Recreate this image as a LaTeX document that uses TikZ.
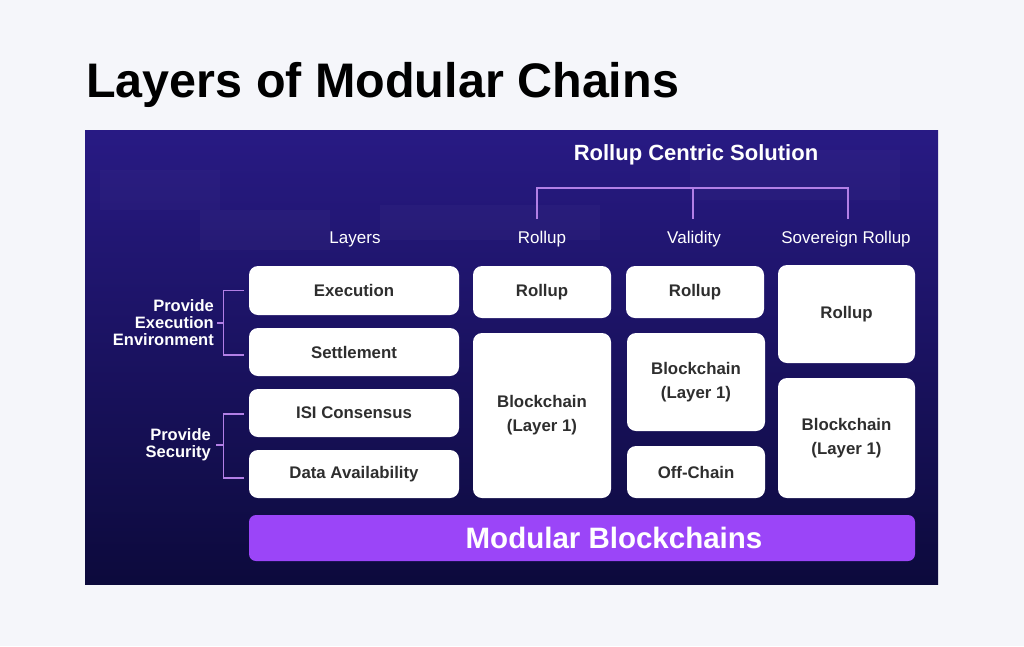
\documentclass[tikz,border=0pt]{standalone}
\usepackage{fontspec}
\setmainfont{Liberation Sans}
\usetikzlibrary{positioning}
\definecolor{pagebg}{HTML}{F5F6FA}
\definecolor{paneltop}{HTML}{281A84}
\definecolor{panelbot}{HTML}{0C0A3C}
\definecolor{boxtext}{HTML}{2E2E2E}
\definecolor{bracket}{HTML}{B27FE6}
\definecolor{barpurple}{HTML}{9B45F8}
\tikzset{
  card/.style={draw=none, fill=white, rounded corners=9pt, text=boxtext,
    font=\bfseries\fontsize{16.8}{24}\selectfont, align=center, inner sep=0pt},
  head/.style={text=white, font=\fontsize{17}{19}\selectfont, inner sep=0pt},
  side/.style={text=white, font=\bfseries\fontsize{16.5}{17}\selectfont, align=right, inner sep=0pt},
  brk/.style={draw=bracket, line width=1.3pt},
}
\newcommand{\card}[6]{% name, x1, y1, x2, y2, text
  \node[card, minimum width={#4-#2}, minimum height={#5-#3}] (#1) at ({(#2+#4)/2},{(#3+#5)/2}) {#6};}
\begin{document}
\begin{tikzpicture}[x=1pt,y=-1pt]
\useasboundingbox (0,0) rectangle (1024,646);
\fill[pagebg] (0,0) rectangle (1024,646);
\node[anchor=base west, inner sep=0pt, font=\bfseries\fontsize{48.5}{56}\selectfont] (title) at (86,97) {Layers of Modular Chains};
% panel
\shade[top color=paneltop, bottom color=panelbot] (85,130) rectangle (938,584);
\fill[white, opacity=0.025] (200,210) rectangle (330,250);
\fill[white, opacity=0.025] (380,205) rectangle (600,240);
\fill[white, opacity=0.02] (100,170) rectangle (220,210);
\fill[white, opacity=0.02] (690,150) rectangle (900,200);
% headers
\node[text=white, font=\bfseries\fontsize{22}{24}\selectfont, inner sep=0pt] (rcs) at (696,155) {Rollup Centric Solution};
\node[head] (hlayers) at (355,239) {Layers};
\node[head] (hrollup) at (542,239) {Rollup};
\node[head] (hvalid) at (694,239) {Validity};
\node[head] (hsov) at (846,239) {Sovereign Rollup};
% cards
\card{exec}{249}{266}{459}{315}{Execution}
\card{settle}{249}{328}{459}{376}{Settlement}
\card{isi}{249}{389}{459}{437}{ISI Consensus}
\card{da}{249}{450}{459}{498}{Data Availability}
\card{r1}{473}{266}{611}{318}{Rollup}
\card{b1}{473}{333}{611}{498}{Blockchain\\(Layer 1)}
\card{r2}{626}{266}{764}{318}{Rollup}
\card{b2}{627}{333}{765}{431}{Blockchain\\(Layer 1)}
\card{off}{627}{446}{765}{498}{Off-Chain}
\card{r3}{778}{265}{915}{363}{Rollup}
\card{b3}{778}{378}{915}{498}{Blockchain\\(Layer 1)}
\node[fill=barpurple, rounded corners=7pt, minimum width=666pt, minimum height=46pt, inner sep=0pt] (bar) at (582,538) {};
\node[text=white, font=\bfseries\fontsize{29.5}{32}\selectfont, inner sep=0pt] (barlabel) at (614,538) {Modular Blockchains};
% top bracket
\coordinate (tl) at (537,188);
\coordinate (tm) at (693,188);
\coordinate (tr) at (848,188);
\draw[brk] (537,219) -- (tl) -- (tr) -- (848,219);
\draw[brk] (tm) -- (693,219);
% left brackets
\node[side, anchor=east] (peeT) at (214,323) {Provide\\Execution\\Environment};
\node[side, anchor=east] (psT) at (211,445) {Provide\\Security};
\draw[brk] ([xshift=-5pt]exec.west) -- ++(-20,0) |- ([xshift=-5pt,yshift=-3pt]settle.west);
\draw[brk] (peeT.east) ++(3,0) -- (224,323);
\draw[brk] ([xshift=-5pt,yshift=-1pt]isi.west) -- ++(-20,0) |- ([xshift=-5pt,yshift=-4pt]da.west);
\draw[brk] (psT.east) ++(5,0) -- (224,445);
\end{tikzpicture}
\end{document}
